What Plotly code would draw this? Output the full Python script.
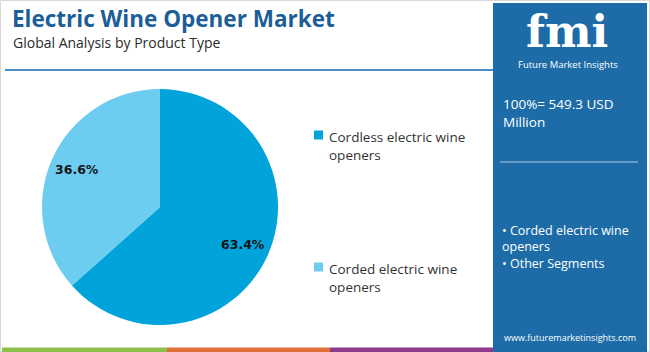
import math
import plotly.graph_objects as go

# ---- data ----
segments = ["Cordless electric wine openers", "Corded electric wine openers"]
legend_labels = ["Cordless electric wine<br>openers", "Corded electric wine<br>openers"]
shares = [63.4, 36.6]
slice_colors = ["#00A4DB", "#6DCDF0"]

title = "Electric Wine Opener Market"
subtitle = "Global Analysis by Product Type"
total_text = "100%= 549.3 USD<br>Million"
side_bullets = "• Corded electric wine<br>openers<br>• Other Segments"
website = "www.futuremarketinsights.com"
strip_colors = ["#8DC04B", "#E0703A", "#8E3B8E"]

W, H = 650, 352
FONT = "Open Sans"

def px(x):
    return x / W

def py(y):
    return 1 - y / H

# pie placement (pixels)
PIE_L, PIE_R, PIE_T, PIE_B = 42, 278, 89, 325
cx, cy = (PIE_L + PIE_R) / 2, (PIE_T + PIE_B) / 2
rad = (PIE_R - PIE_L) / 2

fig = go.Figure()
fig.add_trace(go.Pie(
    labels=segments,
    values=shares,
    sort=False,
    direction="clockwise",
    rotation=0,
    marker=dict(colors=slice_colors, line=dict(width=0)),
    textinfo="none",
    domain=dict(x=[px(PIE_L), px(PIE_R)], y=[py(PIE_B), py(PIE_T)]),
    showlegend=False,
    hoverinfo="label+percent",
))

shapes = []
annotations = []

# slice value labels placed at each slice's mid-angle
total = sum(shares)
cum = 0.0
for v in shares:
    mid = (cum + v / 2) / total * 2 * math.pi
    cum += v
    lx = cx + 0.77 * rad * math.sin(mid)
    ly = cy - 0.77 * rad * math.cos(mid)
    annotations.append(dict(text="<b>%.1f%%</b>" % v, x=px(lx), y=py(ly), xref="paper", yref="paper",
                            xanchor="center", yanchor="middle", showarrow=False,
                            font=dict(family="DejaVu Sans", size=12.5, color="#151515")))

# outer light border
shapes.append(dict(type="rect", xref="paper", yref="paper", x0=px(0.5), x1=px(649.5), y0=py(351.5), y1=py(0.5),
                   line=dict(color="#D9D9D9", width=1), fillcolor="rgba(0,0,0,0)", layer="below"))
# header underline
shapes.append(dict(type="line", xref="paper", yref="paper", x0=px(5), x1=px(493), y0=py(70), y1=py(70),
                   line=dict(color="#4A8CC6", width=2)))
# bottom colour strip
bounds = [2, 167, 330, 494]
for i, c in enumerate(strip_colors):
    shapes.append(dict(type="rect", xref="paper", yref="paper", x0=px(bounds[i]), x1=px(bounds[i + 1]),
                       y0=py(352), y1=py(347.5), line=dict(width=0), fillcolor=c))
# right panel
shapes.append(dict(type="rect", xref="paper", yref="paper", x0=px(493), x1=px(647), y0=py(352), y1=py(3),
                   line=dict(width=0), fillcolor="#1D6CA7"))
# panel separator
shapes.append(dict(type="line", xref="paper", yref="paper", x0=px(500), x1=px(638), y0=py(162), y1=py(162),
                   line=dict(color="#AFC9E0", width=1.2)))

# title and subtitle
annotations.append(dict(text="<b>" + title + "</b>", x=px(11), y=py(18), xref="paper", yref="paper",
                        xanchor="left", yanchor="middle", showarrow=False, borderpad=0,
                        font=dict(family=FONT, size=22.5, color="#1B5E98")))
annotations.append(dict(text=subtitle, x=px(12), y=py(42), xref="paper", yref="paper",
                        xanchor="left", yanchor="middle", showarrow=False, borderpad=0,
                        font=dict(family=FONT, size=14, color="#2B2B2B")))

# custom legend
leg_y = [135, 267]
for lab, col, yy in zip(legend_labels, slice_colors, leg_y):
    shapes.append(dict(type="rect", xref="paper", yref="paper", x0=px(314), x1=px(323), y0=py(yy + 4.5), y1=py(yy - 4.5),
                       line=dict(width=0), fillcolor=col))
    annotations.append(dict(text=lab, x=px(327), y=py(yy - 9), xref="paper", yref="paper",
                            xanchor="left", yanchor="top", align="left", showarrow=False,
                            font=dict(family=FONT, size=13.5, color="#333333")))

# logo text
annotations.append(dict(text="<b>fmi</b>", x=px(567), y=py(31), xref="paper", yref="paper",
                        xanchor="center", yanchor="middle", showarrow=False, borderpad=0,
                        font=dict(family="DejaVu Serif", size=44, color="#FFFFFF")))
annotations.append(dict(text="Future Market Insights", x=px(568), y=py(64), xref="paper", yref="paper",
                        xanchor="center", yanchor="middle", showarrow=False, borderpad=0,
                        font=dict(family=FONT, size=9.5, color="#FFFFFF")))
# panel texts
annotations.append(dict(text=total_text, x=px(501), y=py(93), xref="paper", yref="paper",
                        xanchor="left", yanchor="top", align="left", showarrow=False,
                        font=dict(family=FONT, size=13.5, color="#FFFFFF")))
annotations.append(dict(text=side_bullets, x=px(500), y=py(220), xref="paper", yref="paper",
                        xanchor="left", yanchor="top", align="left", showarrow=False,
                        font=dict(family=FONT, size=12.5, color="#FFFFFF")))
annotations.append(dict(text=website, x=px(570), y=py(337), xref="paper", yref="paper",
                        xanchor="center", yanchor="middle", showarrow=False,
                        font=dict(family=FONT, size=9, color="#FFFFFF")))

fig.update_layout(
    width=W, height=H,
    margin=dict(l=0, r=0, t=0, b=0),
    paper_bgcolor="#FFFFFF",
    plot_bgcolor="#FFFFFF",
    shapes=shapes,
    annotations=annotations,
    font=dict(family=FONT),
)

fig.write_html("out.html")
